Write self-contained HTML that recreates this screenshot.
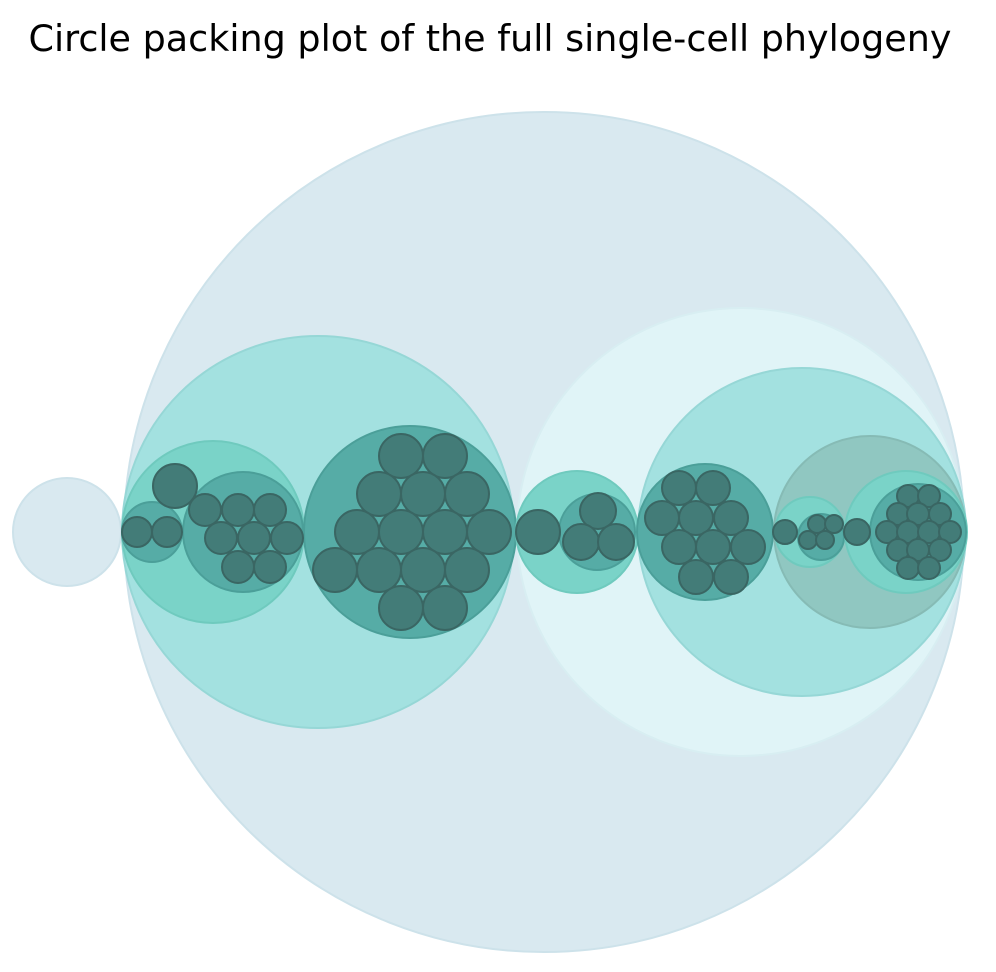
<!DOCTYPE html>
<html><head><meta charset="utf-8"><style>
body{margin:0;background:#fff;}
svg{display:block;}
</style></head><body>
<svg id="chart" width="996" height="972" viewBox="0 0 996 972">
<text x="490" y="51" text-anchor="middle" font-family="DejaVu Sans, sans-serif" font-size="36.5" fill="#000">Circle packing plot of the full single-cell phylogeny</text>
<g id="circles"></g>
</svg>
<script>
// node kinds: 0 root, 1 pale, 2 light teal, 3 mid teal, 4 group, 5 grey, 6 leaf
const cx=[544,67,318,741,213,410,152,243,577,802,597,705,870,810,821,906,918];
const cy=[532,532,532,532,532,532,532,532,532,532,532,532,532,532,537,532,532];
const rr=[420,54,196,224,91,106,30,60,61,164,38,68,96,35,23,61,48];
const kind=[0,0,2,1,3,4,4,4,3,2,4,4,5,3,4,3,4];
const leafX=[175,137,167,205,238,270,221,254,287,238,270,
401,445,379,423,467,357,401,445,489,335,379,423,467,401,445,
538,598,581,616,
679,713,662,696,731,679,713,748,696,731,
785,857,817,834,808,825,
908,929,898,918,940,887,908,929,950,898,918,940,908,929];
const leafY=[486,532,532,510,510,510,538,538,538,567,567,
456,456,494,494,494,532,532,532,532,570,570,570,570,608,608,
532,511,542,542,
488,488,518,518,518,547,547,547,577,577,
532,532,524,524,540,540,
496,496,514,514,514,532,532,532,532,550,550,550,568,568];
const leafR=[22,15,15,16,16,16,16,16,16,16,16,
22,22,22,22,22,22,22,22,22,22,22,22,22,22,22,
22,18,18,18,
17,17,17,17,17,17,17,17,17,17,
12,13,9,9,9,9,
11,11,11,11,11,11,11,11,11,11,11,11,11,11];
const fills=['#d9e9f0','#e0f4f7','#a3e1e0','#7ad3c8','#56aca6','#90c7c1','#437c78'];
const strokes=['#cde2ea','#d8eef2','#96d7d6','#6fcabe','#4b9f99','#86bbb5','#3a6663'];
const g=document.getElementById('circles');
const NS='http://www.w3.org/2000/svg';
function add(x,y,r,k,name){
  const c=document.createElementNS(NS,'circle');
  c.setAttribute('cx',x);c.setAttribute('cy',y);c.setAttribute('r',r);
  c.setAttribute('fill',fills[k]);c.setAttribute('stroke',strokes[k]);
  c.setAttribute('stroke-width',2);
  
  
  g.appendChild(c);
}
for(let i=0;i<cx.length;i++){add(cx[i],cy[i],rr[i],kind[i],'cluster-circle');}
for(let i=0;i<leafX.length;i++){add(leafX[i],leafY[i],leafR[i],6,'leaf-circle');}
</script>
</body></html>
